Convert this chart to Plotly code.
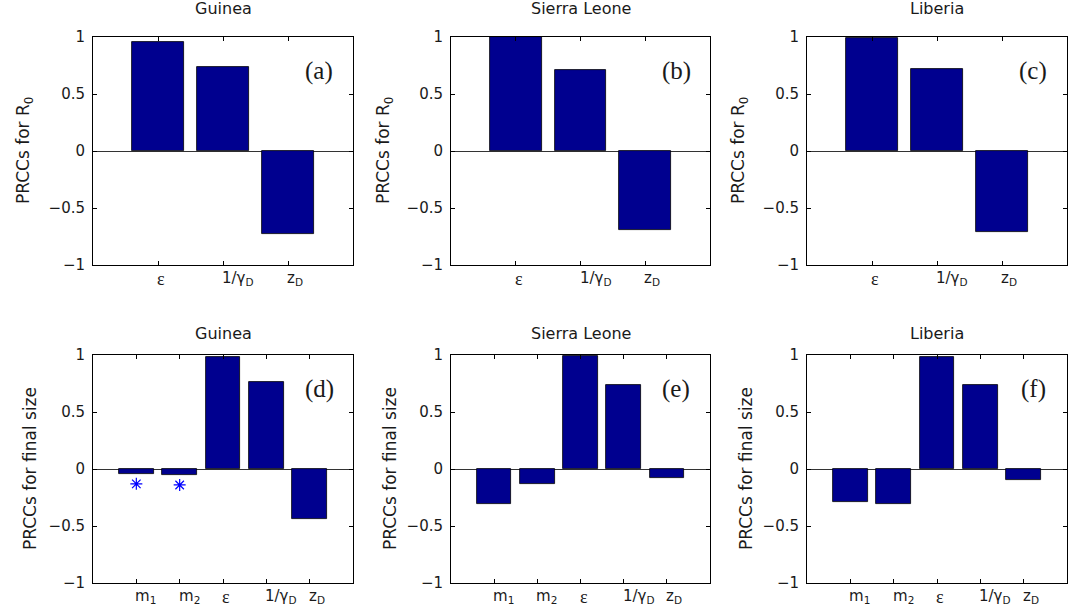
import plotly.graph_objects as go

# ---------------- data ----------------
countries = ["Guinea", "Sierra Leone", "Liberia"]
EPS = "<span style='font-family:Liberation Serif, Times New Roman, serif;font-size:18px'>ε</span>"
r0_params = [EPS, "1/γ<sub>D</sub>", "z<sub>D</sub>"]
fs_params = ["m<sub>1</sub>", "m<sub>2</sub>", EPS, "1/γ<sub>D</sub>", "z<sub>D</sub>"]

prcc_r0_guinea = [0.96, 0.74, -0.73]
prcc_r0_sierra = [1.00, 0.71, -0.69]
prcc_r0_liberia = [0.99, 0.72, -0.71]

prcc_fs_guinea = [-0.04, -0.05, 0.98, 0.76, -0.44]
prcc_fs_sierra = [-0.31, -0.13, 0.99, 0.74, -0.08]
prcc_fs_liberia = [-0.29, -0.31, 0.98, 0.74, -0.10]

# non-significant markers (Guinea final size, m1 and m2)
star_params = [1, 2]
star_y = [-0.13, -0.14]

panel_letters = ["(a)", "(b)", "(c)", "(d)", "(e)", "(f)"]
y_tickvals = [-1, -0.5, 0, 0.5, 1]
y_ticktext = ["−1", "−0.5", "0", "0.5", "1"]

# ---------------- layout helpers ----------------
W, H = 1074, 608
col_px = [(93, 353), (451, 710), (807, 1067)]
row_px = [(37, 265), (355, 583)]
title_y = [8, 333]
ylabel_x = [[25, 385, 740], [30, 390, 746]]

BAR_COLOR = "#00008F"
FONT = "DejaVu Sans, Liberation Sans, Arial, sans-serif"
TXT = "#1a1a1a"

fig = go.Figure()
annotations = []

panels = [
    (0, 0, prcc_r0_guinea, r0_params), (0, 1, prcc_r0_sierra, r0_params), (0, 2, prcc_r0_liberia, r0_params),
    (1, 0, prcc_fs_guinea, fs_params), (1, 1, prcc_fs_sierra, fs_params), (1, 2, prcc_fs_liberia, fs_params),
]

layout = {}
for k, (r, c, vals, params) in enumerate(panels):
    idx = k + 1
    xa = "x" if idx == 1 else f"x{idx}"
    ya = "y" if idx == 1 else f"y{idx}"
    xpos = list(range(1, len(vals) + 1))
    fig.add_trace(go.Bar(
        x=xpos, y=vals, width=0.8, xaxis=xa, yaxis=ya,
        marker=dict(color=BAR_COLOR, line=dict(color="black", width=0.8)),
        showlegend=False, hoverinfo="x+y",
    ))
    if r == 1 and c == 0:
        fig.add_trace(go.Scatter(
            x=star_params, y=star_y, mode="markers", xaxis=xa, yaxis=ya,
            marker=dict(symbol="asterisk-open", size=10, color="#0000FF",
                        line=dict(color="#0000FF", width=1.2)),
            showlegend=False,
        ))
    x0, x1 = col_px[c]
    y0, y1 = row_px[r]
    layout["xaxis" if idx == 1 else f"xaxis{idx}"] = dict(
        domain=[x0 / W, x1 / W], anchor=ya, range=[0, len(vals) + 1],
        tickvals=xpos, showticklabels=False, ticks="inside", ticklen=4,
        tickcolor="black", showline=True, linecolor="black", linewidth=1,
        mirror="ticks", showgrid=False, zeroline=False, fixedrange=True,
    )
    layout["yaxis" if idx == 1 else f"yaxis{idx}"] = dict(
        domain=[1 - y1 / H, 1 - y0 / H], anchor=xa, range=[-1, 1],
        tickvals=y_tickvals, ticktext=y_ticktext, ticks="inside", ticklen=4,
        tickcolor="black", showline=True, linecolor="black", linewidth=1,
        mirror="ticks", showgrid=False, zeroline=True, zerolinecolor="#333333",
        zerolinewidth=1, tickfont=dict(family=FONT, size=15, color=TXT),
        ticklabelstandoff=4, fixedrange=True,
    )
    # x tick labels (left aligned at tick, as in the original)
    for p, lab in zip(xpos, params):
        annotations.append(dict(
            x=p, y=0, xref=xa, yref=f"{ya} domain", text=lab, showarrow=False,
            xanchor="left", yanchor="top", xshift=-3, yshift=-2,
            font=dict(family=FONT, size=15, color=TXT),
        ))
    # title
    annotations.append(dict(
        x=(x0 + x1) / 2 / W, y=1 - title_y[r] / H, xref="paper", yref="paper",
        text=countries[c], showarrow=False, xanchor="center", yanchor="middle",
        font=dict(family=FONT, size=16, color=TXT),
    ))
    # y label
    annotations.append(dict(
        x=ylabel_x[r][c] / W, y=1 - (y0 + y1) / 2 / H, xref="paper", yref="paper",
        text="PRCCs for R<sub>0</sub>" if r == 0 else "PRCCs for final size",
        showarrow=False, textangle=-90, xanchor="center", yanchor="middle",
        font=dict(family=FONT, size=17, color=TXT),
    ))
    # panel letter
    annotations.append(dict(
        x=0.87, y=0.85, xref=f"{xa} domain", yref=f"{ya} domain",
        text=panel_letters[k], showarrow=False, xanchor="center", yanchor="middle",
        font=dict(family="Liberation Serif, Times New Roman, serif", size=25, color=TXT),
    ))

fig.update_layout(
    autosize=True, margin=dict(l=0, r=0, t=0, b=0, autoexpand=False),
    paper_bgcolor="white", plot_bgcolor="white",
    annotations=annotations, bargap=0, **layout,
)

fig.write_html(
    "out.html",
    default_width="100vw", default_height="100vh",
    config={"displayModeBar": False, "responsive": True},
    post_script=(
        "document.body.style.margin='0';document.body.style.overflow='hidden';"
        "Plotly.Plots.resize(document.getElementById('{plot_id}'));"
    ),
)
